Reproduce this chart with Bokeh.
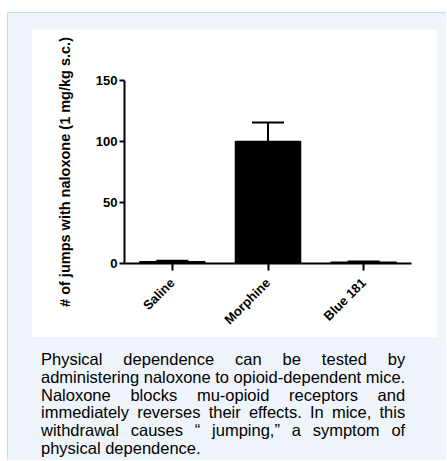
import math
from bokeh.plotting import figure
from bokeh.models import FixedTicker, Whisker, TeeHead, ColumnDataSource, Div, Spacer
from bokeh.layouts import column, row
from bokeh.embed import file_html
from bokeh.resources import INLINE

# ---- data ----
groups = ["Saline", "Morphine", "Blue 181"]
jumps = [1.5, 100.0, 1.0]
sem = [0.8, 15.5, 0.6]
y_ticks = [0, 50, 100, 150]
y_label = "# of jumps with naloxone (1 mg/kg s.c.)"
caption_lines = [
    "Physical dependence can be tested by",
    "administering naloxone to opioid-dependent mice.",
    "Naloxone blocks mu-opioid receptors and",
    "immediately reverses their effects. In mice, this",
    "withdrawal causes \u201c jumping,\u201d a symptom of",
    "physical dependence.",
]

FONT = "Liberation Sans, Arial, sans-serif"

src = ColumnDataSource(dict(g=groups, v=jumps, u=[a + b for a, b in zip(jumps, sem)]))

p = figure(x_range=groups, y_range=(0, 150), width=406, height=308,
           output_backend="svg", toolbar_location=None,
           min_border_left=93, min_border_right=26, min_border_top=51, min_border_bottom=74)
p.background_fill_color = "white"
p.border_fill_color = "white"
p.outline_line_color = None
p.xgrid.visible = False
p.ygrid.visible = False

p.vbar(x="g", top="v", bottom=0, width=0.68, source=src,
       fill_color="black", line_color="black", line_width=1.5)

w = Whisker(source=src, base="g", upper="u", lower="v", dimension="height",
            line_color="black", line_width=2,
            upper_head=TeeHead(size=32, line_color="black", line_width=2),
            lower_head=None, level="overlay")
p.add_layout(w)

ya = p.yaxis[0]
ya.ticker = FixedTicker(ticks=y_ticks)
ya.minor_tick_line_color = None
ya.major_tick_out = 5
ya.major_tick_in = 0
ya.major_tick_line_width = 2
ya.axis_line_width = 2
ya.axis_line_color = "black"
ya.major_tick_line_color = "black"
ya.major_label_standoff = 2
ya.major_label_text_font = FONT
ya.major_label_text_font_style = "bold"
ya.major_label_text_font_size = "13px"
ya.major_label_text_color = "black"
ya.axis_label = y_label
ya.axis_label_text_font = FONT
ya.axis_label_text_font_style = "bold"
ya.axis_label_text_font_size = "14.5px"
ya.axis_label_text_color = "black"
ya.axis_label_standoff = 20

xa = p.xaxis[0]
xa.major_tick_out = 7
xa.major_tick_in = 0
xa.major_tick_line_width = 2
xa.axis_line_width = 2
xa.axis_line_color = "black"
xa.major_tick_line_color = "black"
xa.minor_tick_line_color = None
xa.major_label_orientation = math.pi / 4
xa.major_label_standoff = 10
xa.major_label_text_font = FONT
xa.major_label_text_font_style = "bold"
xa.major_label_text_font_size = "13px"
xa.major_label_text_color = "black"

line_html = []
for i, ln in enumerate(caption_lines):
    last = i == len(caption_lines) - 1
    style = "text-align:left;" if last else "text-align:justify;text-align-last:justify;"
    line_html.append(f'<div style="{style}white-space:nowrap;">{ln}</div>')
cap = Div(text="".join(line_html), width=396, height=114,
          styles={"font-family": FONT, "font-size": "16.5px", "line-height": "17.8px",
                  "color": "black", "overflow": "hidden"})

panel_style = {"background-color": "#eef4f9",
               "border-left": "1px solid #c5ddf0",
               "border-top": "1px solid #c5ddf0",
               "overflow": "hidden"}

panel = column(Spacer(height=16),
               row(Spacer(width=23), p),
               Spacer(height=9),
               row(Spacer(width=28), cap),
               width=439, height=448, styles=panel_style)

page = column(Spacer(height=12), row(Spacer(width=7), panel))

open("out.html", "w").write(file_html(page, INLINE))
